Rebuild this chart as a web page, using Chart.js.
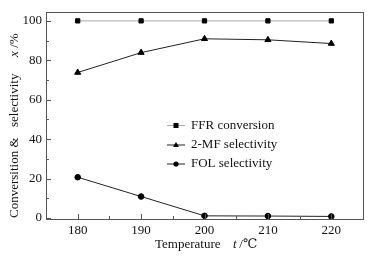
<!DOCTYPE html>
<html>
<head>
<meta charset="utf-8">
<script src="https://cdn.jsdelivr.net/npm/chart.js@4.4.0/dist/chart.umd.min.js"></script>
<style>
  html, body { margin: 0; padding: 0; background: #fff; }
  #wrap { width: 377px; height: 259px; }
</style>
</head>
<body>
<div id="wrap"><canvas id="chart"></canvas></div>
<script>
const temperatures = [180, 190, 200, 210, 220];
const ffrConversion = [100, 100, 100, 100, 100];
const mfSelectivity = [73.8, 83.9, 90.9, 90.4, 88.5];
const folSelectivity = [20.7, 10.9, 1.1, 1.0, 0.8];
const seriesLabels = ['FFR conversion', '2-MF selectivity', 'FOL selectivity'];
const xTicks = [180, 190, 200, 210, 220];
const yTicks = [0, 20, 40, 60, 80, 100];

const FONT = '"Liberation Serif", "DejaVu Serif", serif';

const toPoints = vals => vals.map((v, i) => ({ x: temperatures[i], y: v }));

// frame, inward ticks, axis titles and in-plot legend
const decorPlugin = {
    id: 'decor',
    afterDraw(chart) {
        const { ctx, chartArea: a, scales } = chart;
        const xs = scales.x, ys = scales.y;
        ctx.save();
        ctx.strokeStyle = '#555';
        ctx.lineWidth = 1;
        ctx.strokeRect(a.left + 0.5, a.top + 0.5, a.right - a.left, a.bottom - a.top);

        ctx.beginPath();
        for (let v = 180; v <= 220; v += 5) {
            const px = Math.round(xs.getPixelForValue(v)) + 0.5;
            const len = v % 10 === 0 ? 5 : 3;
            ctx.moveTo(px, a.bottom);
            ctx.lineTo(px, a.bottom - len);
        }
        for (let v = 0; v <= 100; v += 10) {
            const py = Math.round(ys.getPixelForValue(v)) + 0.5;
            const len = v % 20 === 0 ? 5 : 3;
            ctx.moveTo(a.left, py);
            ctx.lineTo(a.left + len, py);
        }
        ctx.stroke();

        // x title
        ctx.fillStyle = '#111';
        ctx.textBaseline = 'middle';
        ctx.textAlign = 'left';
        ctx.font = '13px ' + FONT;
        ctx.fillText('Temperature', 155, 245);
        ctx.font = 'italic 13px ' + FONT;
        ctx.fillText('t', 233, 245);
        ctx.font = '13px ' + FONT;
        ctx.fillText(' /\u2103', 236, 245);

        // y title
        ctx.save();
        ctx.translate(15, 218);
        ctx.rotate(-Math.PI / 2);
        ctx.textAlign = 'left';
        ctx.font = '13px ' + FONT;
        ctx.fillText('Conversition &', 0, 0);
        ctx.fillText('selectivity', 91, 0);
        ctx.font = 'italic 13px ' + FONT;
        ctx.fillText('x', 161, 0);
        ctx.font = '13px ' + FONT;
        ctx.fillText(' /%', 167, 0);
        ctx.restore();

        // legend
        const rows = [125.5, 145, 164];
        chart.data.datasets.forEach((ds, i) => {
            const y = rows[i];
            ctx.strokeStyle = ds.borderColor;
            ctx.lineWidth = 1;
            ctx.beginPath();
            ctx.moveTo(167, y);
            ctx.lineTo(185, y);
            ctx.stroke();
            ctx.fillStyle = '#000';
            const cx = 176;
            ctx.beginPath();
            if (ds.pointStyle === 'rect') {
                ctx.rect(cx - 2.5, y - 2.5, 5, 5);
            } else if (ds.pointStyle === 'triangle') {
                ctx.moveTo(cx, y - 3);
                ctx.lineTo(cx + 3, y + 2);
                ctx.lineTo(cx - 3, y + 2);
                ctx.closePath();
            } else {
                ctx.arc(cx, y, 2.6, 0, Math.PI * 2);
            }
            ctx.fill();
            ctx.fillStyle = '#111';
            ctx.font = '13px ' + FONT;
            ctx.textAlign = 'left';
            ctx.fillText(ds.label, 191, y);
        });
        ctx.restore();
    }
};

new Chart(document.getElementById('chart'), {
    type: 'line',
    data: {
        datasets: [{
            label: seriesLabels[0],
            data: toPoints(ffrConversion),
            borderColor: '#aaa',
            backgroundColor: '#000',
            pointBackgroundColor: '#000',
            pointBorderColor: '#000',
            pointStyle: 'rect',
            pointRadius: 3,
            borderWidth: 1,
            tension: 0
        }, {
            label: seriesLabels[1],
            data: toPoints(mfSelectivity),
            borderColor: '#222',
            pointBackgroundColor: '#000',
            pointBorderColor: '#000',
            pointStyle: 'triangle',
            pointRadius: 3.5,
            borderWidth: 1,
            tension: 0
        }, {
            label: seriesLabels[2],
            data: toPoints(folSelectivity),
            borderColor: '#222',
            pointBackgroundColor: '#000',
            pointBorderColor: '#000',
            pointStyle: 'circle',
            pointRadius: 2.8,
            borderWidth: 1,
            tension: 0
        }]
    },
    options: {
        responsive: true,
        maintainAspectRatio: false,
        animation: false,
        layout: { padding: { top: 12, right: 14, left: 0, bottom: 0 } },
        plugins: {
            legend: { display: false },
            tooltip: { enabled: false }
        },
        scales: {
            x: {
                type: 'linear',
                min: 175,
                max: 225,
                afterBuildTicks: s => { s.ticks = xTicks.map(v => ({ value: v })); },
                afterFit: s => { s.height = 40; },
                grid: { display: false, drawTicks: false },
                border: { display: false },
                ticks: { color: '#111', font: { family: FONT, size: 13 }, padding: 4 }
            },
            y: {
                min: -0.5,
                max: 104.5,
                afterBuildTicks: s => { s.ticks = yTicks.map(v => ({ value: v })); },
                afterFit: s => { s.width = 46; },
                grid: { display: false, drawTicks: false },
                border: { display: false },
                ticks: { color: '#111', font: { family: FONT, size: 13 }, padding: 4 }
            }
        }
    },
    plugins: [decorPlugin]
});
</script>
</body>
</html>
